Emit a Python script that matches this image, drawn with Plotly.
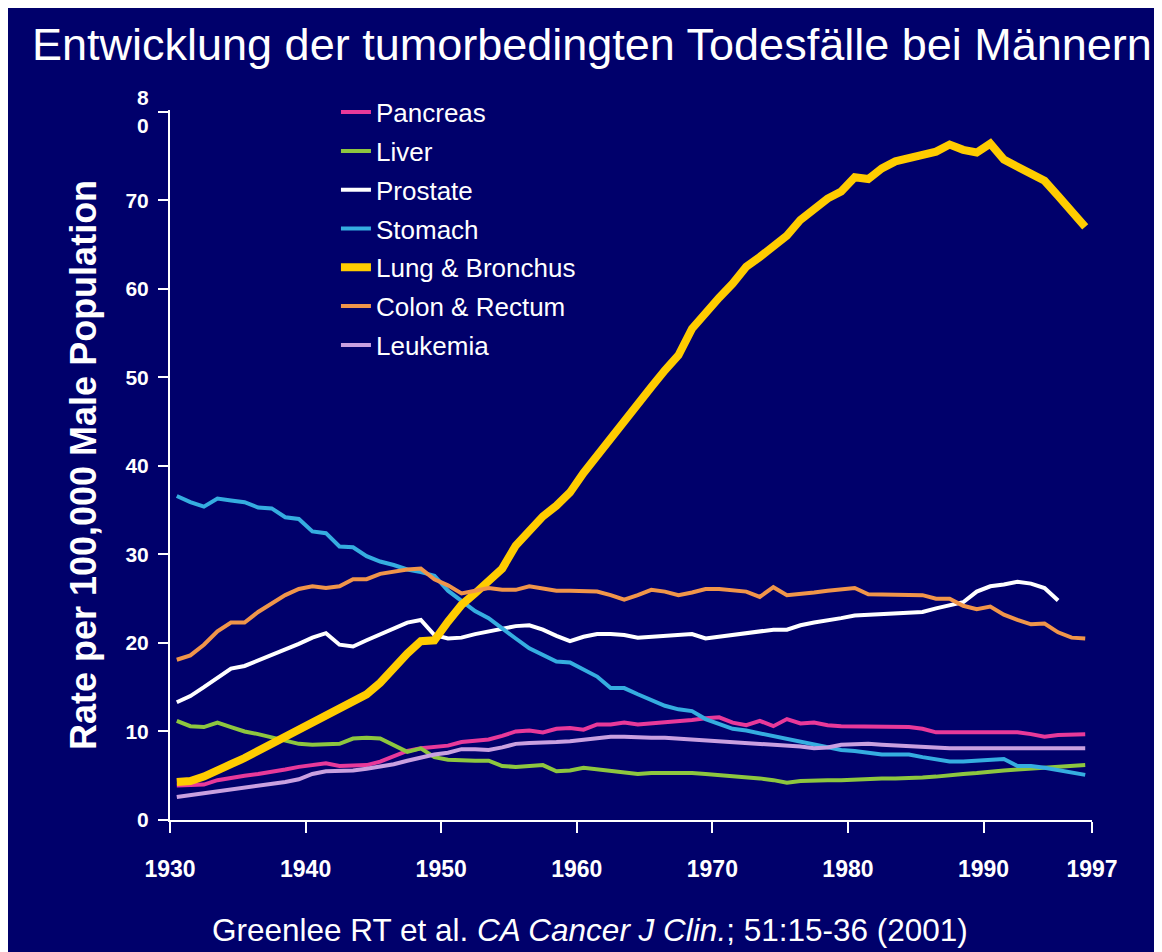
import plotly.graph_objects as go

years = list(range(1930, 1998))

pancreas = [3.9, 3.9, 4.0, 4.5, 4.8, 5.0, 5.2, 5.4, 5.7, 6.0,
            6.2, 6.4, 6.1, 6.1, 6.2, 6.6, 7.2, 7.8, 8.1, 8.2,
            8.4, 8.8, 8.9, 9.1, 9.5, 10.0, 10.1, 9.9, 10.3, 10.4,
            10.2, 10.8, 10.8, 11.0, 10.8, 10.9, 11.0, 11.1, 11.3, 11.5,
            11.6, 11.0, 10.7, 11.2, 10.6, 11.4, 10.9, 11.0, 10.7, 10.6,
            10.6, 10.6, 10.6, 10.5, 10.5, 10.3, 9.9, 9.9, 9.9, 9.9,
            9.9, 9.9, 9.9, 9.7, 9.4, 9.6, 9.7, 9.7]
liver = [11.2, 10.6, 10.5, 11.0, 10.5, 10.0, 9.7, 9.3, 9.0, 8.6,
         8.5, 8.5, 8.6, 9.2, 9.3, 9.2, 8.5, 7.7, 8.1, 7.1,
         6.8, 6.7, 6.7, 6.7, 6.1, 6.0, 6.1, 6.2, 5.5, 5.6,
         5.9, 5.7, 5.5, 5.3, 5.2, 5.3, 5.3, 5.4, 5.3, 5.2,
         5.1, 5.0, 4.9, 4.7, 4.5, 4.2, 4.4, 4.5, 4.5, 4.5,
         4.6, 4.7, 4.7, 4.7, 4.7, 4.8, 4.9, 5.1, 5.2, 5.3,
         5.5, 5.6, 5.7, 5.8, 5.9, 6.0, 6.1, 6.2]
prostate = [13.3, 14.0, 15.0, 16.0, 17.1, 17.4, 18.0, 18.6, 19.2, 19.9,
            20.6, 21.1, 19.8, 19.6, 20.3, 21.0, 21.7, 22.3, 22.6, 20.9,
            20.5, 20.6, 21.0, 21.3, 21.6, 21.9, 22.0, 21.5, 20.8, 20.2,
            20.7, 21.0, 21.0, 20.9, 20.6, 20.7, 20.7, 20.9, 21.0, 20.5,
            20.7, 20.9, 21.2, 21.4, 21.5, 21.5, 22.0, 22.3, 22.5, 22.8,
            23.1, 23.2, 23.3, 23.3, 23.4, 23.5, 23.9, 24.3, 24.6, 25.8,
            26.4, 26.6, 26.9, 26.7, 26.2, 24.8, None, None]
stomach = [36.6, 35.9, 35.4, 36.3, 36.1, 35.9, 35.3, 35.2, 34.2, 34.0,
           32.6, 32.4, 30.9, 30.8, 29.8, 29.2, 28.8, 28.3, 28.0, 27.6,
           25.9, 24.8, 23.6, 22.8, 21.6, 20.5, 19.4, 18.6, 17.9, 17.8,
           17.0, 16.2, 14.9, 14.9, 14.2, 13.5, 12.9, 12.5, 12.3, 11.4,
           10.9, 10.3, 10.1, 9.8, 9.5, 9.1, 8.9, 8.5, 8.2, 7.9,
           7.8, 7.6, 7.4, 7.4, 7.4, 7.1, 6.9, 6.6, 6.6, 6.7,
           6.8, 6.9, 6.1, 6.1, 5.9, 5.6, 5.3, 5.1]
lung = [4.3, 4.4, 4.9, 5.5, 6.3, 7.0, 7.8, 8.6, 9.4, 10.2,
        11.1, 11.9, 12.7, 13.5, 14.2, 15.5, 17.2, 18.8, 20.2, 20.3,
        22.4, 24.3, 25.6, 27.0, 28.4, 31.0, 32.8, 34.3, 35.5, 37.0,
        39.2, 41.2, 43.2, 45.0, 47.0, 48.9, 50.8, 52.5, 55.5, 57.4,
        59.0, 60.6, 62.5, 63.6, 64.8, 66.0, 67.8, 69.1, 70.2, 71.0,
        72.6, 72.4, 73.6, 74.4, 74.8, 75.1, 75.5, 76.3, 75.7, 75.4,
        76.4, 74.6, 73.8, 73.1, 72.2, 70.5, 68.8, 67.0]
colon = [18.1, 18.6, 19.8, 21.3, 22.3, 22.3, 23.5, 24.5, 25.4, 26.1,
         26.4, 26.2, 26.4, 27.2, 27.2, 27.8, 28.1, 28.3, 28.4, 27.2,
         26.5, 25.6, 25.9, 26.2, 26.0, 26.0, 26.4, 26.1, 25.9, 25.9,
         25.9, 25.8, 25.4, 24.9, 25.4, 26.0, 25.8, 25.4, 25.7, 26.1,
         26.1, 25.9, 25.8, 25.2, 26.3, 25.4, 25.5, 25.7, 25.9, 26.1,
         26.2, 25.5, 25.5, 25.5, 25.5, 25.4, 25.0, 25.0, 24.2, 23.8,
         24.1, 23.2, 22.6, 22.1, 22.2, 21.2, 20.6, 20.5]
leukemia = [2.6, 2.8, 3.0, 3.2, 3.5, 3.7, 3.9, 4.1, 4.3, 4.6,
            5.2, 5.5, 5.5, 5.6, 5.8, 6.0, 6.3, 6.7, 7.1, 7.4,
            7.6, 8.0, 8.0, 7.9, 8.2, 8.6, 8.7, 8.7, 8.8, 8.9,
            9.1, 9.3, 9.4, 9.4, 9.3, 9.3, 9.3, 9.2, 9.1, 9.1,
            9.0, 8.9, 8.8, 8.7, 8.6, 8.5, 8.3, 8.1, 8.2, 8.5,
            8.6, 8.6, 8.5, 8.4, 8.4, 8.3, 8.2, 8.1, 8.1, 8.1,
            8.2, 8.2, 8.2, 8.2, 8.1, 8.1, 8.1, 8.1]

x_tick_labels = ["1930", "1940", "1950", "1960", "1970", "1980", "1990", "1997"]
y_tick_vals = [0, 10, 20, 30, 40, 50, 60, 70, 80]
y_tick_labels = ["0", "10", "20", "30", "40", "50", "60", "70", "8<br>0"]

navy = "#00006b"
font = "Liberation Sans, Arial, sans-serif"

# lijnen: (naam, waarden, kleur, dikte)
series = [
    ("Pancreas", pancreas, "#e8399a", 4),
    ("Liver", liver, "#8dc63f", 4),
    ("Prostate", prostate, "#ffffff", 4),
    ("Stomach", stomach, "#35ade0", 4),
    ("Lung & Bronchus", lung, "#ffcc00", 8),
    ("Colon & Rectum", colon, "#f0954a", 4),
    ("Leukemia", leukemia, "#c9a0e0", 4),
]

fig = go.Figure()
for name, vals, col, w in series:
    fig.add_trace(go.Scatter(x=years, y=vals, name=name, mode="lines",
                             legendgroup=name,
                             line=dict(color=col, width=w)))

# ticks staan op de jaargrenzen (begin van 1930 ... eind van 1997)
x_tick_pos = [int(t) - 0.5 for t in x_tick_labels[:-1]] + [int(x_tick_labels[-1]) + 0.5]

# de pagina heeft 8px witte marge links/boven, dus figuur iets kleiner
fig.update_layout(
    width=1154, height=944,
    margin=dict(l=162, r=70, t=102, b=132),
    paper_bgcolor=navy,
    plot_bgcolor=navy,
    font=dict(family=font, color="white"),
    showlegend=True,
    legend=dict(x=0.18, y=1.03, xanchor="left", yanchor="top",
                bgcolor="rgba(0,0,0,0)", font=dict(size=26, color="white"),
                tracegroupgap=2),
    xaxis=dict(range=[1929.5, 1997.5], tickvals=x_tick_pos, ticktext=x_tick_labels,
               showgrid=False, zeroline=False, showline=True, linecolor="white", linewidth=2,
               ticks="outside", ticklen=11, tickwidth=2, tickcolor="white",
               ticklabelstandoff=16,
               tickfont=dict(size=23, color="white", weight="bold")),
    yaxis=dict(range=[0, 80.2], tickvals=y_tick_vals, ticktext=y_tick_labels,
               showgrid=False, zeroline=False, showline=True, linecolor="white", linewidth=2,
               ticks="outside", ticklen=10, tickwidth=2, tickcolor="white",
               ticklabelstandoff=5,
               tickfont=dict(size=21, color="white", weight="bold"),
               title=dict(text="Rate per 100,000 Male Population", standoff=18,
                          font=dict(size=36, color="white", weight="bold"))),
    annotations=[
        dict(text="Entwicklung der tumorbedingten Todesfälle bei Männern",
             xref="paper", yref="paper", x=(30 - 170) / 922, y=(820 - 45) / 710,
             xanchor="left", yanchor="middle", showarrow=False,
             font=dict(size=45, color="white")),
        dict(text="Greenlee RT et al. <i>CA Cancer J Clin.</i>; 51:15-36 (2001)",
             xref="paper", yref="paper", x=(590 - 170) / 922, y=(820 - 930) / 710,
             xanchor="center", yanchor="middle", showarrow=False,
             font=dict(size=31.5, color="white")),
    ],
)

fig.write_html("out.html")
